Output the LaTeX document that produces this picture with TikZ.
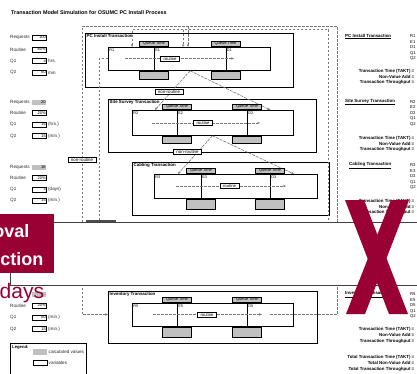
\documentclass[tikz,border=0pt]{standalone}
\usepackage{fontspec}
\setmainfont{Liberation Sans}
\usetikzlibrary{arrows.meta}
\definecolor{xred}{RGB}{153,0,51}
\definecolor{calc}{RGB}{192,192,192}
\definecolor{flowgray}{RGB}{120,120,120}
\begin{document}
\begin{tikzpicture}[x=1pt,y=-1pt,
  lab/.style={font=\fontsize{4.6}{5}\selectfont, inner sep=0, anchor=west, text=black!85},
  varbox/.style={draw, line width=0.7pt, fill=white, minimum height=5pt, inner sep=0.6pt, text width=12.8pt, align=right, font=\fontsize{4}{4.5}\selectfont, anchor=west},
  calcbox/.style={fill=calc, minimum height=5pt, inner sep=0.6pt, text width=12.8pt, align=right, font=\fontsize{4}{4.5}\selectfont, anchor=west},
  ttl/.style={font=\bfseries\fontsize{4.4}{5}\selectfont, inner sep=0, anchor=north west},
  tbox/.style={draw, line width=0.8pt, inner sep=0, anchor=north west},
  sec/.style={draw, line width=0.8pt, fill=white, inner sep=0, anchor=north west},
  seclab/.style={font=\fontsize{3.8}{4}\selectfont, inner sep=0, anchor=north west},
  qt/.style={draw, fill=calc, line width=0.6pt, minimum width=29pt, minimum height=5pt, inner sep=0, anchor=south, font=\fontsize{4}{4.5}\selectfont},
  qb/.style={draw, fill=calc, line width=0.6pt, minimum width=29pt, inner sep=0, anchor=north},
  rt/.style={draw, fill=white, line width=0.6pt, minimum width=19pt, minimum height=5pt, inner sep=0, font=\fontsize{4.2}{4.5}\selectfont},
  nr/.style={draw, fill=white, line width=0.6pt, minimum width=28pt, minimum height=5pt, inner sep=0, font=\fontsize{4.4}{4.5}\selectfont},
  flow/.style={draw=flowgray, dash pattern=on 2.5pt off 1.5pt, line width=0.7pt},
  vflow/.style={draw=flowgray, dash pattern=on 3pt off 1pt, line width=0.6pt},
  flowarrow/.style={-{Stealth[length=3pt,width=2.4pt]}},
  rtxt/.style={font=\bfseries\fontsize{4.4}{5}\selectfont, inner sep=0, anchor=east},
  vtxt/.style={font=\fontsize{4.2}{5}\selectfont, inner sep=0, anchor=west},
]
\useasboundingbox (0,0) rectangle (417,373);
\clip (0,0) rectangle (417,373);
\fill[white] (0,0) rectangle (417,373);

% title
\node[font=\bfseries\fontsize{5.4}{6}\selectfont, inner sep=0, anchor=west] (title) at (11,13) {Transaction Model Simulation for OSUMC PC Install Process};

% ---------- transaction boxes ----------
\node[tbox, minimum width=208pt, minimum height=54pt] (pc) at (85,33) {};
\node[ttl] (pct) at (86.5,34.5) {PC Install Transaction};
\node[sec, minimum width=46pt, minimum height=23pt] (r1) at (108,47) {};
\node[sec, minimum width=71.5pt, minimum height=23pt] (e1) at (154,47) {};
\node[sec, minimum width=44.5pt, minimum height=23pt] (d1) at (225.5,47) {};

\node[tbox, minimum width=208pt, minimum height=53pt] (ss) at (108,99) {};
\node[ttl] (sst) at (109.5,100.5) {Site Survey Transaction};
\node[sec, minimum width=45pt, minimum height=25pt] (r2) at (132,110) {};
\node[sec, minimum width=70pt, minimum height=25pt] (e2) at (177,110) {};
\node[sec, minimum width=46pt, minimum height=25pt] (d2) at (247,110) {};

\node[tbox, minimum width=197pt, minimum height=53pt] (cb) at (132,162) {};
\node[ttl] (cbt) at (133.5,163.5) {Cabling Transaction};
\node[sec, minimum width=47pt, minimum height=24pt] (r3) at (154,174) {};
\node[sec, minimum width=69pt, minimum height=24pt] (e3) at (201,174) {};
\node[sec, minimum width=47pt, minimum height=24pt] (d3) at (270,174) {};

\node[tbox, minimum width=209pt, minimum height=52pt] (iv) at (108,291) {};
\node[ttl] (ivt) at (109.5,292.5) {Inventory Transaction};
\node[sec, minimum width=45pt, minimum height=23pt] (r5) at (132,303) {};
\node[sec, minimum width=70pt, minimum height=23pt] (e5) at (177,303) {};
\node[sec, minimum width=46pt, minimum height=23pt] (d5) at (247,303) {};

% section labels
\foreach \s/\t in {r1/R1,e1/E1,d1/D1,r2/R2,e2/E2,d2/D2,r3/R3,e3/E3,d3/D3,r5/R5,e5/E5,d5/D5}{
  \node[seclab] (\s lab) at ([shift={(1.2pt,-1.2pt)}]\s.north west) {\t};
}

% ---------- feedback loops ----------
\coordinate (o1) at (270,314.5);
\coordinate (o2) at (337,314.5);
\coordinate (o3) at (337,26);
\coordinate (o4) at (82,26);
\coordinate (o5) at (82,314.5);
\draw[flow,flowarrow] (o1) -- (o2) -- (o3) -- (o4) -- (o5) -- (o5 -| iv.west);
\coordinate (o6) at (188,26);
\draw[flow,flowarrow] (o6) -- (o6 |- e1.north);

\coordinate (n1) at (328.5,224);
\coordinate (n2) at (328.5,29.5);
\coordinate (n3) at (132,29.5);
\draw[flow,flowarrow] (n1) -- (n2) -- (n3) -- (n3 |- r1.north);
\coordinate (n4) at (183,29.5);
\draw[flow,flowarrow] (n4) -- (n4 |- e1.north);

\coordinate (m1) at (99,224);
\coordinate (m2) at (99,58.5);
\draw[flow] (m1) -- (m2) -- (m2 -| r1.west);

% ---------- non-routine connectors ----------
\draw[vflow,flowarrow] (e1.south) -- (r2.north);
\draw[vflow,flowarrow] (e1.south) -- (d2.north);
\draw[vflow,flowarrow] (e2.south) -- (r3.north);
\draw[vflow,flowarrow] (e2.south) -- (d3.north);

% ---------- queue labels and calculated boxes ----------
\foreach \s/\h in {e1/8,d1/8,e2/7,d2/7,e3/10,d3/10,e5/10,d5/10}{
  \node[qt] (\s q) at ([yshift=0.6pt]\s.north west) {Queue Time};
  \node[qb, minimum height=\h pt] (\s g) at (\s.south west) {};
}

% ---------- routine flows ----------
\coordinate (p1s) at (125,58.5);  \coordinate (p1e) at (234,58.5);
\draw[flow,flowarrow] (p1s) -- (p1e);
\node[rt] (rt1) at (170,58.5) {routine};
\coordinate (p2s) at (152,123);   \coordinate (p2e) at (260,123);
\draw[flow,flowarrow] (p2s) -- (p2e);
\node[rt] (rt2) at (203,123) {routine};
\coordinate (p3s) at (176,186);   \coordinate (p3e) at (286,186);
\draw[flow,flowarrow] (p3s) -- (p3e);
\node[rt] (rt3) at (229.5,186) {routine};
\coordinate (p5s) at (153,314.5); \coordinate (p5e) at (262,314.5);
\draw[flow,flowarrow] (p5s) -- (p5e);
\node[rt] (rt5) at (207,314.5) {routine};

% non-routine labels
\node[nr] (nr1) at (169,91.5) {non-routine};
\node[nr] (nr2) at (187.5,151.5) {non-routine};
\node[nr] (nr3) at (82,160) {non-routine};

% ---------- left inputs ----------
\node[lab] (la1) at (10,37.5) {Requests};  \node[varbox] (va1) at (32,37.5) {100};
\node[lab] (lb1) at (10,49.5) {Routine};   \node[varbox] (vb1) at (32,49.5) {80\%};
\node[lab] (lc1) at (10,61) {Q1};          \node[varbox] (vc1) at (32,61) {4};   \node[lab] (uc1) at (48,61) {hrs.};
\node[lab] (ld1) at (10,72.5) {Q2};        \node[varbox] (vd1) at (32,72.5) {60}; \node[lab] (ud1) at (48,72.5) {min};

\node[lab] (la2) at (10,102) {Requests};   \node[calcbox] (va2) at (32,102) {20};
\node[lab] (lb2) at (10,113) {Routine};    \node[varbox] (vb2) at (32,113) {20\%};
\node[lab] (lc2) at (10,124.5) {Q1};       \node[varbox] (vc2) at (32,124.5) {16}; \node[lab] (uc2) at (48,124.5) {(hrs.)};
\node[lab] (ld2) at (10,136) {Q2};         \node[varbox] (vd2) at (32,136) {15}; \node[lab] (ud2) at (48,136) {(min.)};

\node[lab] (la3) at (10,167) {Requests};   \node[calcbox] (va3) at (32,167) {16};
\node[lab] (lb3) at (10,178) {Routine};    \node[varbox] (vb3) at (32,178) {20\%};
\node[lab] (lc3) at (10,189.5) {Q1};       \node[varbox] (vc3) at (32,189.5) {4}; \node[lab] (uc3) at (48,189.5) {(days)};
\node[lab] (ld3) at (10,200.5) {Q2};       \node[varbox] (vd3) at (32,200.5) {15}; \node[lab] (ud3) at (48,200.5) {(min.)};

\node[calcbox] (va4) at (32,294) {};
\node[lab] (lb4) at (10,305.5) {Routine};  \node[varbox] (vb4) at (32,305.5) {20\%};
\node[lab] (lc4) at (10,317.5) {Q1};       \node[varbox] (vc4) at (32,317.5) {60}; \node[lab] (uc4) at (48,317.5) {(min.)};
\node[lab] (ld4) at (10,329) {Q2};         \node[varbox] (vd4) at (32,329) {15}; \node[lab] (ud4) at (48,329) {(min.)};

% legend
\node[draw, line width=0.8pt, inner sep=0, anchor=north west, minimum width=76pt, minimum height=40pt] (leg) at (10,343) {};
\node[font=\bfseries\fontsize{4.2}{5}\selectfont, inner sep=0, anchor=north west] (legt) at (12,345) {Legend:};
\node[fill=calc, minimum width=14pt, minimum height=6pt, inner sep=0, anchor=west] (legc) at (33,352) {};
\node[lab] (legct) at (48.5,352) {calculated values};
\node[draw, line width=0.7pt, minimum width=14pt, minimum height=5pt, inner sep=0, anchor=west] (legv) at (33,363) {};
\node[lab] (legvt) at (48.5,363) {variables};

% ---------- right column ----------
\node[ttl, anchor=west] (h1) at (345,36.5) {\underline{PC Install Transaction}};
\node[vtxt] (x1a) at (410,36.5) {R1};
\node[vtxt] (x1b) at (410,42) {E1};
\node[vtxt] (x1c) at (410,47.5) {D1};
\node[vtxt] (x1d) at (410,53) {Q1};
\node[vtxt] (x1e) at (410,58.5) {Q2};
\node[rtxt] (y1a) at (414.5,71) {Transaction Time (TAKT) =};
\node[rtxt] (y1b) at (414.5,76.5) {Non-Value Add =};
\node[rtxt] (y1c) at (414.5,82) {Transaction Throughput =};

\node[ttl, anchor=west] (h2) at (345,102) {\underline{Site Survey Transaction}};
\node[vtxt] (x2a) at (410,102) {R2};
\node[vtxt] (x2b) at (410,107.5) {E2};
\node[vtxt] (x2c) at (410,113) {D2};
\node[vtxt] (x2d) at (410,118.5) {Q1};
\node[vtxt] (x2e) at (410,124) {Q2};
\node[rtxt] (y2a) at (414.5,138) {Transaction Time (TAKT) =};
\node[rtxt] (y2b) at (414.5,143.5) {Non-Value Add =};
\node[rtxt] (y2c) at (414.5,149) {Transaction Throughput =};

\node[ttl, anchor=west] (h3) at (349,165.5) {\underline{Cabling Transaction}};
\node[vtxt] (x3a) at (410,165.5) {R3};
\node[vtxt] (x3b) at (410,171) {E3};
\node[vtxt] (x3c) at (410,176.5) {D3};
\node[vtxt] (x3d) at (410,182) {Q1};
\node[vtxt] (x3e) at (410,187.5) {Q2};
\node[rtxt] (y3a) at (414.5,201.5) {Transaction Time (TAKT) =};
\node[rtxt] (y3b) at (414.5,207) {Non-Value Add =};
\node[rtxt] (y3c) at (414.5,212.5) {Transaction Throughput =};

\node[ttl, anchor=west] (h5) at (345,294.5) {\underline{Inventory Transaction}};
\node[vtxt] (x5a) at (410,294.5) {R5};
\node[vtxt] (x5b) at (410,300) {E5};
\node[vtxt] (x5c) at (410,305.5) {D5};
\node[vtxt] (x5d) at (410,311) {Q1};
\node[vtxt] (x5e) at (410,316.5) {Q2};
\node[rtxt] (y5a) at (414.5,329) {Transaction Time (TAKT) =};
\node[rtxt] (y5b) at (414.5,335) {Non-Value Add =};
\node[rtxt] (y5c) at (414.5,341) {Transaction Throughput =};

\node[rtxt] (za) at (414.5,357) {Total Transaction Time (TAKT) =};
\node[rtxt] (zb) at (414.5,363) {Total Non-Value Add =};
\node[rtxt] (zc) at (414.5,369) {Total Transaction Throughput =};

% ---------- overlay ----------
\fill[white] (10,222) rectangle (420,285);
\draw[line width=0.8pt, black!75] (10,285) -- (10,222) -- (420,222);
\draw[line width=0.8pt, black!75] (10,285) -- (420,285);
\draw[line width=1.4pt, black!70] (86,221) -- (116,221);
\node[fill=xred, minimum width=54pt, minimum height=59pt, inner sep=0, anchor=north west] (redbox) at (0,214) {};
\node[font=\bfseries\fontsize{18}{20}\selectfont, text=white, inner sep=0, anchor=base east] (ov) at (29.5,237) {oval};
\node[font=\bfseries\fontsize{18}{20}\selectfont, text=white, inner sep=0, anchor=base east] (ct) at (43.5,265) {ction};
\node[font=\fontsize{21}{24}\selectfont, text=xred, inner sep=0, anchor=base west] (days) at (-0.5,298) {days};
\fill[xred] (345,200) -- (364,200) -- (408,314) -- (389,314) -- cycle;
\fill[xred] (391,200) -- (409,200) -- (365,314) -- (346,314) -- cycle;
\end{tikzpicture}
\end{document}
